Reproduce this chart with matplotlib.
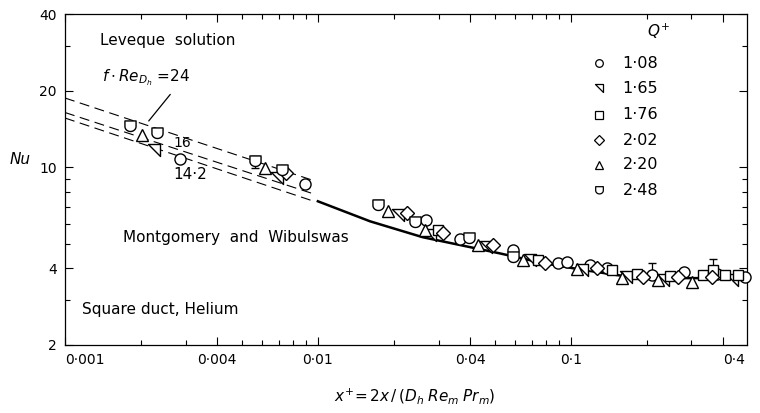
import numpy as np
import matplotlib.pyplot as plt
from matplotlib.path import Path
from matplotlib.ticker import FixedLocator, NullFormatter

plt.rcParams['font.family'] = 'DejaVu Sans'
plt.rcParams['mathtext.fontset'] = 'dejavusans'

# data: x+ and Nu for each heating rate Q+
x_108 = [0.00285, 0.00889, 0.0267, 0.0364, 0.0590, 0.0889, 0.0964, 0.119, 0.139, 0.209, 0.280, 0.378, 0.487]
nu_108 = [10.8, 8.6, 6.18, 5.20, 4.71, 4.19, 4.22, 4.11, 4.00, 3.75, 3.86, 3.79, 3.69]

x_165 = [0.00225, 0.00689, 0.0207, 0.0277, 0.0461, 0.0689, 0.111, 0.166, 0.231, 0.433]
nu_165 = [11.7, 9.1, 6.47, 5.40, 4.84, 4.30, 3.93, 3.69, 3.59, 3.59]

x_176 = [0.0298, 0.0741, 0.145, 0.182, 0.246, 0.333, 0.365, 0.406, 0.457]
nu_176 = [5.65, 4.30, 3.93, 3.79, 3.72, 3.75, 3.93, 3.75, 3.75]

x_202 = [0.00748, 0.0225, 0.0312, 0.0492, 0.0789, 0.127, 0.193, 0.265, 0.361]
nu_202 = [9.5, 6.59, 5.50, 4.93, 4.19, 4.00, 3.69, 3.69, 3.69]

x_220 = [0.00201, 0.00618, 0.0189, 0.0265, 0.0429, 0.0646, 0.106, 0.159, 0.221, 0.301]
nu_220 = [13.4, 9.9, 6.70, 5.65, 4.93, 4.30, 3.96, 3.66, 3.59, 3.52]

x_248 = [0.00181, 0.00231, 0.00564, 0.00721, 0.0173, 0.0242, 0.0395, 0.0592]
nu_248 = [14.5, 13.6, 10.6, 9.7, 7.08, 6.07, 5.25, 4.42]

# error bars (x+, Nu, low, high)
err_x = [0.00564, 0.0173, 0.209, 0.365]
err_nu = [10.6, 7.08, 3.75, 3.93]
err_lo = [9.9, 7.08, 3.75, 3.93]
err_hi = [11.1, 7.45, 4.19, 4.34]

# Leveque solution lines for f.Re = 24, 16, 14.2
lev_x = [0.001, 0.0098]
lev_24 = [18.7, 8.8]
lev_16 = [16.4, 7.8]
lev_142 = [15.6, 7.3]

# Montgomery and Wibulswas
mw_x = [0.0100, 0.0161, 0.0260, 0.0524, 0.0754, 0.1086, 0.156, 0.225, 0.497]
mw_nu = [7.34, 6.12, 5.30, 4.58, 4.22, 3.96, 3.75, 3.66, 3.66]

q_labels = ['1·08', '1·65', '1·76', '2·02', '2·20', '2·48']

xticks = [0.001, 0.004, 0.01, 0.04, 0.1, 0.4]
xticklabels = ['0·001', '0·004', '0·01', '0·04', '0·1', '0·4']
yticks = [2, 4, 10, 20, 40]

# custom markers
tri_path = Path([(-1, 1), (1, 1), (1, -1), (-1, 1)],
                [Path.MOVETO, Path.LINETO, Path.LINETO, Path.CLOSEPOLY])
ang = np.linspace(0, -np.pi, 20)
cup_verts = [(-1, 1), (1, 1), (1, 0)] + [(np.cos(a), 0.9 * np.sin(a)) for a in ang] + [(-1, 1)]
cup_path = Path(cup_verts, [Path.MOVETO] + [Path.LINETO] * (len(cup_verts) - 2) + [Path.CLOSEPOLY])

markers = ['o', tri_path, 's', 'D', '^', cup_path]
sizes = [8, 8, 7.5, 7.5, 8.5, 8]
series = [(x_108, nu_108), (x_165, nu_165), (x_176, nu_176),
          (x_202, nu_202), (x_220, nu_220), (x_248, nu_248)]

fig = plt.figure(figsize=(7.6, 4.13), dpi=100)
ax = fig.add_axes([0.0855, 0.165, 0.897, 0.801])
ax.set_xscale('log')
ax.set_yscale('log')
ax.set_xlim(0.001, 0.4963)
ax.set_ylim(2, 40)

for yy in (lev_24, lev_16, lev_142):
    ax.plot(lev_x, yy, color='k', lw=0.8, dashes=(9, 5), zorder=1)
ax.plot(mw_x, mw_nu, color='k', lw=1.8, zorder=2)

ax.errorbar(err_x, err_nu,
            yerr=[np.array(err_nu) - np.array(err_lo), np.array(err_hi) - np.array(err_nu)],
            fmt='none', ecolor='k', elinewidth=0.9, capsize=3, zorder=3)

for (xs, ys), m, ms in zip(series, markers, sizes):
    ax.plot(xs, ys, ls='none', marker=m, ms=ms, mfc='white', mec='k', mew=1.0,
            zorder=4, clip_on=False)

# ticks
ax.xaxis.set_major_locator(FixedLocator(xticks))
ax.set_xticklabels(xticklabels)
ax.xaxis.set_minor_locator(FixedLocator([0.002, 0.003, 0.005, 0.006, 0.007, 0.008, 0.009,
                                         0.02, 0.03, 0.05, 0.06, 0.07, 0.08, 0.09, 0.2, 0.3]))
ax.xaxis.set_minor_formatter(NullFormatter())
ax.yaxis.set_major_locator(FixedLocator(yticks))
ax.set_yticklabels([str(v) for v in yticks])
ax.yaxis.set_minor_locator(FixedLocator([3, 5, 6, 7, 8, 9, 30]))
ax.yaxis.set_minor_formatter(NullFormatter())
ax.tick_params(which='both', direction='in', top=True, right=True, width=0.8, labelsize=10)
ax.tick_params(which='major', length=6, pad=6)
ax.tick_params(which='minor', length=3.5)
lab = ax.get_xticklabels()
lab[0].set_ha('left')
lab[-1].set_ha('left')
for s in ax.spines.values():
    s.set_linewidth(0.9)

ax.set_ylabel('Nu', rotation=0, fontsize=11, style='italic')
ax.yaxis.set_label_coords(-0.066, 0.538)
ax.set_xlabel(r'$x^{+}\!=2x\,/\,(D_h\;Re_m\;Pr_m)$', fontsize=11)
ax.xaxis.set_label_coords(0.513, -0.125)

# annotations
ax.text(0.051, 0.921, 'Leveque  solution', transform=ax.transAxes, fontsize=11, va='center')
ax.text(0.054, 0.807, r'$f\cdot Re_{D_h}$ =24', transform=ax.transAxes, fontsize=11, va='center')
ax.annotate('', xy=(0.00211, 14.9), xytext=(0.00265, 19.7),
            arrowprops=dict(arrowstyle='-', lw=0.9, color='k'))
ax.text(0.172, 0.610, '16', transform=ax.transAxes, fontsize=10, ha='center', va='center')
ax.text(0.183, 0.514, '14·2', transform=ax.transAxes, fontsize=11, ha='center', va='center')
ax.text(0.085, 0.326, 'Montgomery  and  Wibulswas', transform=ax.transAxes, fontsize=11, va='center')
ax.text(0.025, 0.106, 'Square duct, Helium', transform=ax.transAxes, fontsize=11, va='center')

# legend drawn by hand
ax.text(0.870, 0.949, r'$Q^{+}$', transform=ax.transAxes, fontsize=11, ha='center', va='center')
row_y = [0.852, 0.776, 0.695, 0.619, 0.544, 0.468]
for m, lbl, yy in zip(markers, q_labels, row_y):
    ax.plot([0.784], [yy], transform=ax.transAxes, ls='none', marker=m, ms=5.5,
            mfc='white', mec='k', mew=0.9)
    ax.text(0.818, yy, lbl, transform=ax.transAxes, fontsize=11.5, va='center')

fig.savefig('out.png', dpi=100)
